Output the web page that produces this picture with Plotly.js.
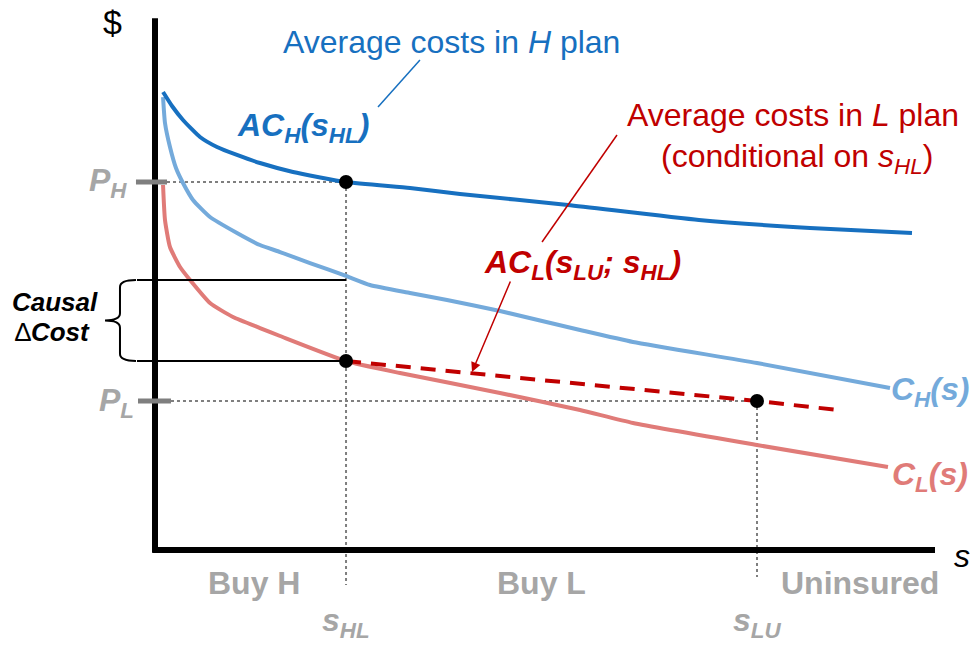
<!DOCTYPE html>
<html><head><meta charset="utf-8">
<script src="https://cdn.plot.ly/plotly-3.0.1.min.js"></script>
<style>html,body{margin:0;padding:0;background:#fff}#chart{width:979px;height:646px}</style>
</head><body><div id="chart"></div>
<script>
// ---- Data (s = consumer type index, $ = cost) ----
const acH_s = [1.03, 2.18, 3.59, 5.77, 7.95, 10.51, 13.46, 17.69, 24.49, 32.69, 39.10, 52.95, 69.74, 83.97, 97.05];
const acH_v = [83.27, 80.73, 78.18, 75.09, 73.27, 71.82, 70.36, 68.73, 66.91, 65.82, 64.73, 62.73, 60.0, 58.55, 57.64];
const cH_s = [1.03, 1.28, 1.92, 2.69, 3.59, 4.87, 7.05, 10.51, 13.46, 16.03, 19.87, 24.49, 27.56, 32.69, 37.44, 44.23, 54.49, 61.28, 77.18, 94.23];
const cH_v = [82.36, 77.64, 73.27, 69.45, 66.73, 63.64, 60.55, 57.64, 55.45, 54.18, 52.18, 49.82, 48.18, 46.73, 45.45, 43.45, 40.0, 37.82, 34.0, 29.45];
const cL_s = [1.03, 1.28, 1.92, 3.21, 4.49, 7.05, 10.0, 13.46, 16.03, 24.49, 31.41, 44.23, 54.49, 61.28, 77.18, 93.97];
const cL_v = [66.36, 60.0, 55.09, 51.45, 49.09, 44.91, 42.36, 40.36, 38.91, 34.36, 32.18, 28.55, 25.45, 23.09, 19.09, 15.09];
const acL_s = [24.49, 77.18, 87.56];
const acL_v = [34.36, 27.09, 25.45];
const sHL = 24.49, sLU = 77.18;
const PH = 66.91, PL = 27.09;
const causalTop = 49.09, causalBot = 34.36;
const dot_s = [sHL, sHL, sLU];
const dot_v = [PH, causalBot, PL];

// ---- Styles ----
const FONT = "Liberation Sans, Arial, sans-serif";
const DARKBLUE = "#1770c0", LIGHTBLUE = "#74aadb", LIGHTRED = "#e07b78", DARKRED = "#c00000";
const GRAY = "#a6a6a6", DGRAY = "#7f7f7f";

const traces = [
  {x: cH_s, y: cH_v, mode: "lines", line: {color: LIGHTBLUE, width: 4, shape: "spline", smoothing: 0.5}},
  {x: cL_s, y: cL_v, mode: "lines", line: {color: LIGHTRED, width: 4, shape: "spline", smoothing: 0.5}},
  {x: acH_s, y: acH_v, mode: "lines", line: {color: DARKBLUE, width: 4, shape: "spline", smoothing: 0.5}},
  {x: acL_s, y: acL_v, mode: "lines", line: {color: DARKRED, width: 4, dash: "15px,10px"}},
  {x: dot_s, y: dot_v, mode: "markers", marker: {color: "#000", size: 14}}
];

const xmin = -19.872, xmax = 105.641, ymin = -17.4545, ymax = 100;

function seg(x0, y0, x1, y1, color, width, dash, layer) {
  return {type: "line", xref: "x", yref: "y", x0, y0, x1, y1,
          line: {color, width, dash: dash || "solid"}, layer: layer || "above"};
}
const mid = (causalTop + causalBot) / 2;
const shapes = [
  // dotted guides
  seg(1.54, PH, sHL, PH, DGRAY, 2, "dot", "below"),
  seg(2.05, PL, sLU, PL, DGRAY, 2, "dot", "below"),
  seg(sHL, PH, sHL, -6.36, DGRAY, 2, "dot", "below"),
  seg(sLU, PL, sLU, -4.91, DGRAY, 2, "dot", "below"),
  // causal lines
  seg(-2.31, causalTop, sHL, causalTop, "#000", 2),
  seg(-2.31, causalBot, sHL, causalBot, "#000", 2),
  // axes
  seg(0, -0.5, 0, 96.7, "#000", 6),
  seg(-0.3, 0, 100, 0, "#000", 6),
  // price ticks
  seg(-2.44, PH, 1.54, PH, DGRAY, 5),
  seg(-2.18, PL, 2.05, PL, DGRAY, 5),
  // leader lines
  seg(28.59, 80.55, 33.97, 89.09, DARKBLUE, 1.5),
  seg(59.23, 75.45, 49.62, 56.0, DARKRED, 1.5),
  // brace
  {type: "path", xref: "x", yref: "y",
   path: `M -2.44,${causalTop} Q -4.49,${causalTop} -4.49,${causalTop-1.3} L -4.49,${mid+1.3} Q -4.49,${mid} -6.41,${mid} Q -4.49,${mid} -4.49,${mid-1.3} L -4.49,${causalBot+1.3} Q -4.49,${causalBot} -2.44,${causalBot}`,
   line: {color: "#000", width: 2}}
];

function txt(x, y, text, size, color, extra) {
  return Object.assign({x, y, xref: "x", yref: "y", text, showarrow: false,
    font: {family: FONT, size, color}, xanchor: "center", yanchor: "middle"}, extra || {});
}
const annotations = [
  txt(-5.51, 96.0, "$", 34, "#000"),
  txt(37.95, 92.36, "Average costs in <i>H</i> plan", 32, DARKBLUE),
  txt(18.97, 76.73, "<b><i>AC<sub>H</sub>(s<sub>HL</sub>)</i></b>", 32, DARKBLUE),
  txt(81.79, 79.09, "Average costs in <i>L</i> plan", 32, DARKRED),
  txt(82.31, 71.27, "(conditional on <i>s<sub>HL</sub></i>)", 32, DARKRED),
  txt(54.87, 51.82, "<b><i>AC<sub>L</sub>(s<sub>LU</sub>; s<sub>HL</sub>)</i></b>", 32, DARKRED),
  txt(99.3, 28.73, "<b><i>C<sub>H</sub>(s)</i></b>", 32, LIGHTBLUE),
  txt(99.3, 13.45, "<b><i>C<sub>L</sub>(s)</i></b>", 32, LIGHTRED),
  txt(-6.03, 66.9, "<b><i>P<sub>H</sub></i></b>", 32, GRAY),
  txt(-5.0, 26.9, "<b><i>P<sub>L</sub></i></b>", 32, GRAY),
  txt(-12.82, 45.09, "<b><i>Causal</i></b>", 26, "#000"),
  txt(-13.08, 39.64, "∆<b><i>Cost</i></b>", 26, "#000"),
  txt(103.46, -1.09, "<i>s</i>", 32, "#000"),
  txt(12.69, -6.0, "<b>Buy H</b>", 32, GRAY),
  txt(49.49, -6.0, "<b>Buy L</b>", 32, GRAY),
  txt(90.38, -6.0, "<b>Uninsured</b>", 32, GRAY),
  txt(sHL, -13.27, "<b><i>s<sub>HL</sub></i></b>", 32, GRAY),
  txt(sLU, -13.27, "<b><i>s<sub>LU</sub></i></b>", 32, GRAY),
  // arrow
  {x: 40.64, y: 32.36, ax: 45.64, ay: 49.09, xref: "x", yref: "y", axref: "x", ayref: "y",
   text: "", showarrow: true, arrowhead: 2, arrowsize: 1.3, arrowwidth: 1.5, arrowcolor: DARKRED}
];

const layout = {
  width: 979, height: 646,
  margin: {l: 0, r: 0, t: 0, b: 0},
  paper_bgcolor: "#fff", plot_bgcolor: "#fff",
  showlegend: false,
  xaxis: {range: [xmin, xmax], visible: false, fixedrange: true},
  yaxis: {range: [ymin, ymax], visible: false, fixedrange: true},
  shapes, annotations,
  font: {family: FONT}
};
Plotly.newPlot("chart", traces, layout, {staticPlot: true, displayModeBar: false});
</script>
</body></html>
